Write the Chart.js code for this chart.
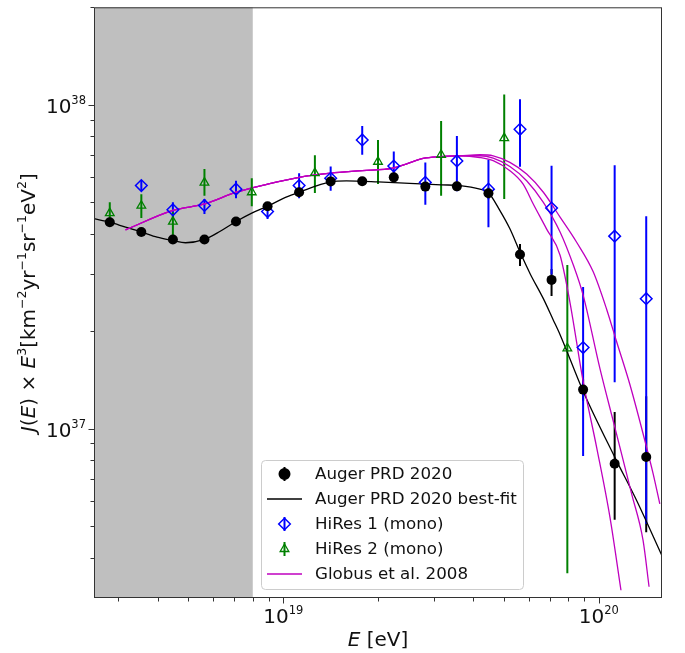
<!DOCTYPE html>
<html>
<head>
<meta charset="utf-8">
<script src="https://cdn.jsdelivr.net/npm/chart.js@4.4.0/dist/chart.umd.min.js"></script>
<style>
  html, body { margin: 0; padding: 0; background: #fff; }
  #wrap { width: 685px; height: 653px; }
</style>
</head>
<body>
<div id="wrap"><canvas id="spectrum" width="685" height="653"></canvas></div>
<script>
/* UHECR spectrum J(E) x E^3 : Auger 2020, HiRes mono, Globus 2008 model.
 * Energies are stored as log10(E/eV), fluxes in units of 1e37.
 */
'use strict';

// ── axis ranges / ticks ──────────────────────────────────────────────────────
var X_MIN = Math.pow(10, 18.4);
var X_MAX = Math.pow(10, 20.2);
var Y_MIN = 3e36;
var Y_MAX = 2e38;
var SHADE_MAX = 8e18;   // grey band upper edge

var xMajorTicks = [1e19, 1e20];
var xMajorLabels = [['10', '19'], ['10', '20']];
var xMinorTicks = [3e18, 4e18, 5e18, 6e18, 7e18, 8e18, 9e18,
                   2e19, 3e19, 4e19, 5e19, 6e19, 7e19, 8e19, 9e19];
var yMajorTicks = [1e37, 1e38];
var yMajorLabels = [['10', '37'], ['10', '38']];
var yMinorTicks = [4e36, 5e36, 6e36, 7e36, 8e36, 9e36,
                   2e37, 3e37, 4e37, 5e37, 6e37, 7e37, 8e37, 9e37, 2e38];

// ── Auger PRD 2020 ───────────────────────────────────────────────────────────
var augerLgE  = [18.45, 18.55, 18.65, 18.75, 18.85, 18.95, 19.05, 19.15, 19.25,
                 19.35, 19.45, 19.55, 19.65, 19.75, 19.85, 19.95, 20.05, 20.15];
var augerFlux = [4.34, 4.05, 3.84, 3.84, 4.36, 4.86, 5.37, 5.80, 5.81,
                 5.97, 5.59, 5.60, 5.33, 3.45, 2.88, 1.32, 0.779, 0.818];
var augerHi   = [4.40, 4.11, 3.90, 3.90, 4.43, 4.94, 5.46, 5.90, 5.92,
                 6.10, 5.74, 5.78, 5.55, 3.72, 3.11, 1.42, 1.125, 1.26];
var augerLo   = [4.28, 3.99, 3.78, 3.78, 4.29, 4.78, 5.28, 5.70, 5.70,
                 5.84, 5.44, 5.42, 5.11, 3.18, 2.57, 1.22, 0.523, 0.479];

// best-fit curve
var fitLgE  = [18.40, 18.45, 18.50, 18.55, 18.60, 18.65, 18.69, 18.75, 18.80, 18.85,
               18.90, 18.95, 19.00, 19.05, 19.10, 19.15, 19.20, 19.30, 19.40, 19.50,
               19.56, 19.623, 19.649, 19.686, 19.718, 19.75, 19.782, 19.824, 19.855,
               19.877, 19.95, 20.051, 20.12, 20.20];
var fitFlux = [4.45, 4.34, 4.19, 4.05, 3.90, 3.81, 3.75, 3.84, 4.07, 4.36,
               4.63, 4.86, 5.14, 5.37, 5.60, 5.78, 5.82, 5.78, 5.72, 5.66,
               5.63, 5.49, 5.37, 4.72, 4.14, 3.51, 3.01, 2.52, 2.17,
               1.95, 1.305, 0.814, 0.599, 0.405];

// ── HiRes 1 (mono) ───────────────────────────────────────────────────────────
var hires1LgE  = [18.55, 18.65, 18.75, 18.85, 18.95, 19.05, 19.15, 19.25, 19.35,
                  19.45, 19.55, 19.65, 19.75, 19.85, 19.95, 20.05, 20.15];
var hires1Flux = [5.63, 4.74, 4.89, 5.49, 4.68, 5.63, 5.93, 7.79, 6.47,
                  5.76, 6.71, 5.49, 8.40, 4.80, 1.78, 3.93, 2.52];
var hires1Hi   = [5.84, 5.00, 5.12, 5.83, 4.89, 6.15, 6.45, 8.60, 7.17,
                  6.64, 8.01, 6.76, 10.4, 6.48, 2.74, 6.51, 4.53];
var hires1Lo   = [5.44, 4.50, 4.60, 5.15, 4.44, 5.15, 5.43, 7.01, 6.01,
                  4.91, 5.41, 4.19, 6.44, 2.99, 0.824, 1.39, 0.509];

// ── HiRes 2 (mono) ───────────────────────────────────────────────────────────
var hires2LgE  = [18.45, 18.55, 18.65, 18.75, 18.90, 19.10, 19.30, 19.50, 19.70, 19.90];
var hires2Flux = [4.63, 4.88, 4.36, 5.75, 5.37, 6.15, 6.67, 7.01, 7.89, 1.77];
var hires2Hi   = [5.00, 5.29, 4.66, 6.33, 5.93, 6.99, 7.79, 8.91, 10.76, 3.20];
var hires2Lo   = [4.44, 4.47, 3.85, 5.24, 4.86, 5.34, 5.69, 5.24, 5.12, 0.358];

// ── Globus et al. 2008 (three curves sharing the low-energy part) ────────────
var globusLgE  = [18.50, 18.65, 18.75, 18.85, 18.95, 19.05, 19.15, 19.25, 19.347,
                  19.389, 19.443, 19.50, 19.56];
var globusFlux = [4.11, 4.72, 4.94, 5.37, 5.69, 5.97, 6.15, 6.26, 6.37,
                  6.56, 6.83, 6.92, 6.96];
var globusHighLgE  = [19.623, 19.665, 19.718, 19.771, 19.824, 19.877, 19.929, 19.982,
                      20.025, 20.056, 20.098, 20.146, 20.172, 20.193];
var globusHighFlux = [7.01, 6.96, 6.64, 6.11, 5.37, 4.50, 3.77, 3.05,
                      2.33, 1.858, 1.371, 0.916, 0.725, 0.586];
var globusMidLgE   = [19.623, 19.665, 19.718, 19.771, 19.824, 19.877, 19.919, 19.950,
                      20.003, 20.051, 20.104, 20.140, 20.159];
var globusMidFlux  = [6.96, 6.84, 6.45, 5.83, 5.00, 4.05, 3.20, 2.585,
                      1.538, 1.006, 0.628, 0.452, 0.325];
var globusLowLgE   = [19.623, 19.665, 19.718, 19.760, 19.792, 19.834, 19.877, 19.908,
                      19.950, 19.993, 20.035, 20.070];
var globusLowFlux  = [6.875, 6.72, 6.26, 5.69, 4.94, 4.14, 3.43, 2.465,
                      1.400, 0.874, 0.533, 0.317];

// ── helpers ──────────────────────────────────────────────────────────────────
var FONT = '"DejaVu Sans", sans-serif';
var MAGENTA = '#bf00bf';

function toPoints(lgE, flux) {
    return lgE.map(function (l, i) { return { x: Math.pow(10, l), y: flux[i] * 1e37 }; });
}
function scaled(arr) {
    return arr.map(function (v) { return v * 1e37; });
}

// draws runs of text: [text, 'n'|'i'|'s'] (normal / italic / superscript)
function drawRuns(ctx, runs, x, y, align, size, supSize, rise) {
    function font(kind) {
        if (kind === 's') return supSize + 'px ' + FONT;
        if (kind === 'i') return 'italic ' + size + 'px ' + FONT;
        return size + 'px ' + FONT;
    }
    var widths = runs.map(function (r) { ctx.font = font(r[1]); return ctx.measureText(r[0]).width; });
    var total = widths.reduce(function (a, b) { return a + b; }, 0);
    var cx = align === 'center' ? x - total / 2 : (align === 'right' ? x - total : x);
    ctx.textAlign = 'left';
    ctx.textBaseline = 'alphabetic';
    runs.forEach(function (r, i) {
        ctx.font = font(r[1]);
        ctx.fillText(r[0], cx, r[1] === 's' ? y - rise : y);
        cx += widths[i];
    });
}

function drawMarker(ctx, style, x, y, r) {
    ctx.beginPath();
    if (style === 'circle') {
        ctx.arc(x, y, r, 0, Math.PI * 2);
    } else if (style === 'rectRot') {
        ctx.moveTo(x, y - r); ctx.lineTo(x + r, y); ctx.lineTo(x, y + r); ctx.lineTo(x - r, y);
        ctx.closePath();
    } else if (style === 'triangle') {
        for (var k = 0; k < 3; k++) {
            var a = k * 2 * Math.PI / 3;
            if (k === 0) ctx.moveTo(x + Math.sin(a) * r, y - Math.cos(a) * r);
            else ctx.lineTo(x + Math.sin(a) * r, y - Math.cos(a) * r);
        }
        ctx.closePath();
    }
    ctx.fill();
    ctx.stroke();
}

// ── plugins ──────────────────────────────────────────────────────────────────
var backdropAndErrors = {
    id: 'backdropAndErrors',
    beforeDatasetsDraw: function (chart) {
        var ctx = chart.ctx, a = chart.chartArea;
        var xs = chart.scales.x, ys = chart.scales.y;
        ctx.save();
        ctx.fillStyle = '#bfbfbf';
        ctx.fillRect(a.left, a.top, xs.getPixelForValue(SHADE_MAX) - a.left, a.bottom - a.top);

        ctx.beginPath();
        ctx.rect(a.left, a.top, a.right - a.left, a.bottom - a.top);
        ctx.clip();
        chart.data.datasets.forEach(function (ds) {
            if (!ds.errHi) return;
            ctx.strokeStyle = ds.borderColor;
            ctx.lineWidth = 2;
            ds.data.forEach(function (p, i) {
                var x = xs.getPixelForValue(p.x);
                ctx.beginPath();
                ctx.moveTo(x, ys.getPixelForValue(ds.errHi[i]));
                ctx.lineTo(x, ys.getPixelForValue(ds.errLo[i]));
                ctx.stroke();
            });
        });
        ctx.restore();
    }
};

var frameAndAxes = {
    id: 'frameAndAxes',
    afterDraw: function (chart) {
        var ctx = chart.ctx, a = chart.chartArea;
        var xs = chart.scales.x, ys = chart.scales.y;
        ctx.save();
        ctx.strokeStyle = '#333';
        ctx.lineWidth = 1;
        ctx.strokeRect(a.left + 0.5, a.top + 0.5, a.right - a.left - 1, a.bottom - a.top - 1);

        function tickX(v, len) {
            var x = Math.round(xs.getPixelForValue(v)) + 0.5;
            ctx.beginPath(); ctx.moveTo(x, a.bottom); ctx.lineTo(x, a.bottom + len); ctx.stroke();
        }
        function tickY(v, len) {
            var y = Math.round(ys.getPixelForValue(v)) + 0.5;
            ctx.beginPath(); ctx.moveTo(a.left, y); ctx.lineTo(a.left - len, y); ctx.stroke();
        }
        xMinorTicks.forEach(function (v) { tickX(v, 3.5); });
        xMajorTicks.forEach(function (v) { tickX(v, 5.5); });
        yMinorTicks.forEach(function (v) { tickY(v, 3.5); });
        yMajorTicks.forEach(function (v) { tickY(v, 5.5); });

        ctx.fillStyle = '#111';
        xMajorTicks.forEach(function (v, i) {
            drawRuns(ctx, [[xMajorLabels[i][0], 'n'], [xMajorLabels[i][1], 's']],
                     xs.getPixelForValue(v), a.bottom + 24.5, 'center', 20, 11.5, 9);
        });
        yMajorTicks.forEach(function (v, i) {
            drawRuns(ctx, [[yMajorLabels[i][0], 'n'], [yMajorLabels[i][1], 's']],
                     a.left - 8, ys.getPixelForValue(v) + 8.5, 'right', 20, 11.5, 9);
        });

        // axis titles
        drawRuns(ctx, [['E', 'i'], [' [eV]', 'n']], (a.left + a.right) / 2, a.bottom + 48, 'center', 20, 12, 9);
        ctx.translate(34.5, (a.top + a.bottom) / 2);
        ctx.rotate(-Math.PI / 2);
        drawRuns(ctx, [['J', 'i'], ['(', 'n'], ['E', 'i'], [') \u00d7 ', 'n'], ['E', 'i'], ['3', 's'],
                       ['[km', 'n'], ['\u22122', 's'], ['yr', 'n'], ['\u22121', 's'], ['sr', 'n'],
                       ['\u22121', 's'], ['eV', 'n'], ['2', 's'], [']', 'n']],
                 0, 0, 'center', 20, 12.5, 9);
        ctx.restore();
    }
};

var boxLegend = {
    id: 'boxLegend',
    afterDraw: function (chart) {
        var ctx = chart.ctx;
        var left = 261.5, top = 460.5, width = 262, height = 129, rad = 4;
        ctx.save();
        ctx.beginPath();
        ctx.moveTo(left + rad, top);
        ctx.arcTo(left + width, top, left + width, top + height, rad);
        ctx.arcTo(left + width, top + height, left, top + height, rad);
        ctx.arcTo(left, top + height, left, top, rad);
        ctx.arcTo(left, top, left + width, top, rad);
        ctx.closePath();
        ctx.fillStyle = 'rgba(255,255,255,0.8)';
        ctx.fill();
        ctx.strokeStyle = '#cccccc';
        ctx.lineWidth = 1;
        ctx.stroke();

        var rows = chart.data.datasets.filter(function (ds) { return !ds.hideInLegend; });
        rows.forEach(function (ds, i) {
            var y = 474 + i * 25;
            if (ds.showLine) {
                ctx.strokeStyle = ds.borderColor;
                ctx.lineWidth = ds.borderWidth;
                ctx.beginPath(); ctx.moveTo(267, y); ctx.lineTo(302, y); ctx.stroke();
            } else {
                ctx.strokeStyle = ds.borderColor;
                ctx.lineWidth = 2;
                ctx.beginPath(); ctx.moveTo(284.5, y - 7); ctx.lineTo(284.5, y + 7); ctx.stroke();
                ctx.fillStyle = ds.pointBackgroundColor;
                ctx.strokeStyle = ds.pointBorderColor;
                ctx.lineWidth = ds.pointBorderWidth;
                drawMarker(ctx, ds.pointStyle, 284.5, y, ds.pointRadius);
            }
            ctx.fillStyle = '#111';
            ctx.font = '16.7px ' + FONT;
            ctx.textAlign = 'left';
            ctx.textBaseline = 'middle';
            ctx.fillText(ds.label, 315, y + 1);
        });
        ctx.restore();
    }
};

// ── chart ────────────────────────────────────────────────────────────────────
function lineSet(label, lgE, flux, colour, order, hide) {
    return {
        label: label,
        data: toPoints(lgE, flux),
        showLine: true,
        borderColor: colour,
        borderWidth: 1.3,
        pointRadius: 0,
        cubicInterpolationMode: 'monotone',
        order: order,
        hideInLegend: !!hide,
    };
}

var datasets = [
    {
        label: 'Auger PRD 2020',
        data: toPoints(augerLgE, augerFlux),
        errHi: scaled(augerHi), errLo: scaled(augerLo),
        showLine: false,
        borderColor: '#000000',
        pointStyle: 'circle', pointRadius: 5,
        pointBackgroundColor: '#000000', pointBorderColor: '#000000', pointBorderWidth: 0,
        order: 0,
    },
    lineSet('Auger PRD 2020 best-fit', fitLgE, fitFlux, '#000000', 4),
    {
        label: 'HiRes 1 (mono)',
        data: toPoints(hires1LgE, hires1Flux),
        errHi: scaled(hires1Hi), errLo: scaled(hires1Lo),
        showLine: false,
        borderColor: '#0000ff',
        pointStyle: 'rectRot', pointRadius: 5.8,
        pointBackgroundColor: 'rgba(0,0,0,0)', pointBorderColor: '#0000ff', pointBorderWidth: 1.5,
        order: 1,
    },
    {
        label: 'HiRes 2 (mono)',
        data: toPoints(hires2LgE, hires2Flux),
        errHi: scaled(hires2Hi), errLo: scaled(hires2Lo),
        showLine: false,
        borderColor: '#008000',
        pointStyle: 'triangle', pointRadius: 5,
        pointBackgroundColor: 'rgba(0,0,0,0)', pointBorderColor: '#008000', pointBorderWidth: 1.3,
        order: 2,
    },
    lineSet('Globus et al. 2008', globusLgE.concat(globusHighLgE), globusFlux.concat(globusHighFlux), MAGENTA, 3),
    lineSet('Globus et al. 2008', globusLgE.concat(globusMidLgE), globusFlux.concat(globusMidFlux), MAGENTA, 3, true),
    lineSet('Globus et al. 2008', globusLgE.concat(globusLowLgE), globusFlux.concat(globusLowFlux), MAGENTA, 3, true),
];

new Chart(document.getElementById('spectrum').getContext('2d'), {
    type: 'scatter',
    data: { datasets: datasets },
    options: {
        responsive: false,
        animation: false,
        devicePixelRatio: 1,
        events: [],
        layout: { padding: { left: 94, right: 23, top: 4, bottom: 55 } },
        plugins: {
            legend: { display: false },
            tooltip: { enabled: false },
        },
        scales: {
            x: { type: 'logarithmic', min: X_MIN, max: X_MAX, display: false },
            y: { type: 'logarithmic', min: Y_MIN, max: Y_MAX, display: false },
        },
    },
    plugins: [backdropAndErrors, frameAndAxes, boxLegend],
});
</script>
</body>
</html>
